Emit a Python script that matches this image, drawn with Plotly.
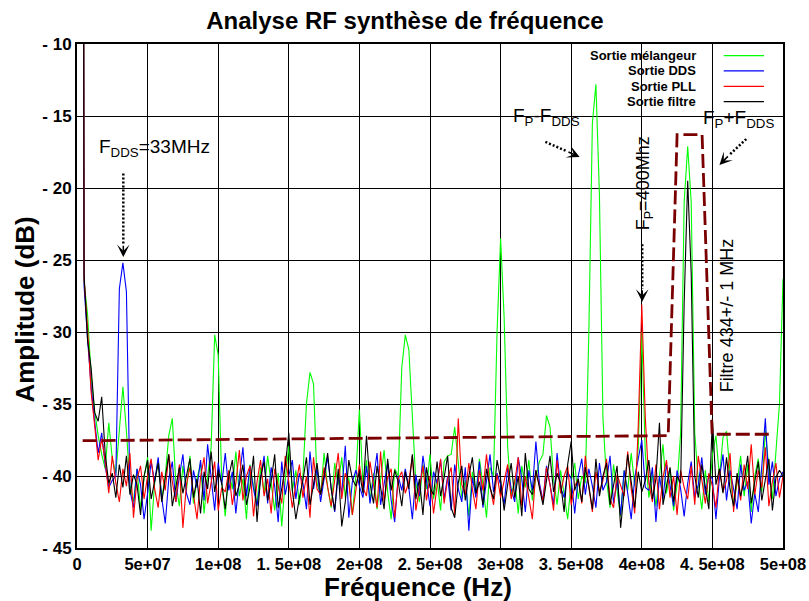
import plotly.graph_objects as go

# ---------------- data ----------------
series_names = ["Sortie mélangeur", "Sortie DDS", "Sortie PLL", "Sortie filtre"]
series_colors = ["#00ff00", "#0000ff", "#ff0000", "#000000"]

# sample grid (MHz): first point 4.6, then 5 .. 500 every 2.5 MHz
grid_first_mhz = 4.6
grid_start_mhz = 5.0
grid_step_mhz = 2.5

green_db = [
    0.0,
    -26.5, -28.8, -33.0, -35.5, -37.2, -38.5, -39.5, -36.3, -38.8, -39.8,
    -36.5, -33.8, -36.9, -40.6, -41.8, -39.5, -42.3, -40.1, -38.7, -43.8,
    -40.5, -38.9, -41.6, -40.0, -37.2, -36.0, -40.5, -42.1, -39.3, -41.0,
    -38.6, -41.9, -40.2, -39.1, -42.6, -40.0, -38.0, -30.2, -31.6, -40.4,
    -42.8, -39.6, -40.9, -38.3, -41.4, -40.2, -43.0, -39.2, -40.7, -41.9,
    -39.4, -41.2, -38.6, -40.5, -42.4, -39.8, -43.5, -40.3, -37.9, -41.0,
    -39.6, -42.0, -40.0, -35.0, -32.8, -33.6, -40.5, -41.3, -38.4, -40.8,
    -42.2, -39.1, -40.6, -38.7, -41.5, -40.1, -42.7, -40.0, -35.4, -40.5,
    -38.9, -41.7, -39.8, -42.3, -40.4, -38.2, -41.1, -43.0, -39.5, -40.0,
    -32.5, -30.2, -31.2, -36.0, -40.5, -41.8, -39.2, -40.9, -38.5, -41.6,
    -40.2, -42.4, -39.0, -38.6, -38.5, -36.6, -39.0, -41.5, -40.3, -42.8,
    -39.7, -41.2, -38.8, -40.6, -42.9, -39.4, -40.0, -30.0, -23.5, -29.0,
    -38.0, -41.4, -40.2, -42.6, -39.3, -40.8, -38.9, -41.7, -40.1, -39.0,
    -38.5, -35.8, -36.6, -40.2, -42.0, -39.6, -41.3, -43.0, -40.4, -39.1,
    -41.6, -40.0, -40.5, -30.0, -15.5, -12.8, -20.5, -36.0, -40.3, -42.2,
    -39.2, -40.9, -42.8, -39.6, -41.0, -38.4, -40.7, -38.0, -30.0, -38.5,
    -41.5, -39.8, -42.1, -40.0, -37.8, -41.2, -39.5, -42.4, -40.6, -37.0,
    -21.0, -17.1, -21.0, -37.0, -40.4, -42.3, -39.6, -41.8, -38.5, -37.2,
    -40.1, -37.3, -36.9, -39.8, -42.0, -40.5, -38.6, -41.4, -39.2, -42.5,
    -40.0, -38.8, -41.1, -36.8, -39.5, -41.6, -38.0, -35.0, -26.3,
]

blue_db = [
    0.0,
    -26.8, -30.5, -33.8, -36.2, -38.4, -37.0, -39.3, -40.8, -40.3, -40.0,
    -27.0, -25.2, -27.2, -41.0, -42.2, -39.5, -40.6, -43.0, -41.2, -39.0,
    -40.4, -38.7, -41.5, -43.3, -40.2, -39.0, -41.8, -40.0, -38.5, -41.2,
    -42.0, -39.6, -40.8, -38.9, -41.7, -37.8, -40.3, -42.4, -39.1, -40.6,
    -38.4, -41.0, -39.7, -42.6, -40.1, -38.0, -41.4, -39.3, -40.9, -42.1,
    -40.2, -38.6, -41.9, -39.4, -40.7, -43.2, -39.0, -41.3, -40.0, -38.9,
    -41.6, -39.8, -40.5, -42.3, -38.3, -40.9, -39.5, -41.8, -40.2, -38.7,
    -40.8, -42.5, -39.9, -41.2, -37.9, -42.9, -40.4, -39.6, -40.7, -41.5,
    -39.3, -41.9, -40.2, -38.4, -42.0, -40.6, -39.1, -41.7, -43.2, -40.0,
    -41.0, -39.5, -40.8, -43.0, -39.9, -41.4, -38.6, -40.3, -42.1, -39.7,
    -40.5, -38.9, -41.6, -40.0, -42.4, -39.2, -40.9, -41.8, -39.4, -43.8,
    -40.1, -41.5, -39.0, -42.2, -40.4, -38.5, -41.1, -39.8, -40.6, -42.0,
    -39.4, -40.9, -41.8, -38.7, -40.2, -42.5, -39.6, -41.0, -37.6, -40.5,
    -41.7, -39.3, -40.6, -42.0, -38.4, -40.8, -41.5, -39.7, -40.2, -42.6,
    -40.0, -38.8, -41.3, -39.5, -40.7, -42.2, -39.1, -41.0, -40.4, -38.6,
    -41.9, -40.3, -42.7, -39.6, -41.2, -43.0, -40.1, -38.9, -37.5, -40.8,
    -41.0, -39.4, -43.2, -40.0, -41.6, -39.2, -40.8, -42.1, -39.6, -40.9,
    -42.8, -40.5, -39.0, -41.5, -40.6, -38.7, -41.3, -39.9, -40.2, -43.0,
    -40.1, -38.5, -41.7, -39.6, -40.9, -42.3, -39.2, -41.0, -40.4, -43.3,
    -41.2, -42.5, -39.3, -36.0, -40.6, -39.0, -41.4, -40.2, -39.7,
]

red_db = [
    0.0,
    -26.3, -29.8, -34.2, -36.5, -38.9, -37.4, -39.0, -41.2, -38.6, -40.5,
    -41.8, -39.5, -40.7, -38.4, -42.9, -40.2, -39.3, -41.6, -40.0, -38.8,
    -40.9, -42.2, -39.7, -41.0, -38.5, -40.4, -41.8, -39.2, -43.6, -40.6,
    -39.4, -41.3, -43.0, -40.1, -38.7, -41.9, -40.3, -39.0, -42.4, -40.8,
    -41.1, -39.6, -42.0, -40.5, -38.2, -41.7, -40.0, -39.3, -42.8, -40.4,
    -38.9, -41.4, -40.2, -42.6, -39.5, -40.8, -41.9, -38.6, -40.3, -42.2,
    -40.6, -39.2, -41.5, -40.0, -42.9, -38.7, -40.9, -41.3, -39.4, -40.7,
    -42.1, -40.3, -38.4, -41.6, -39.8, -40.5, -42.7, -41.0, -39.2, -40.8,
    -41.4, -39.0, -40.6, -42.2, -38.3, -41.8, -40.1, -39.5, -42.9, -40.2,
    -39.7, -41.2, -40.4, -38.6, -42.4, -40.9, -39.3, -41.7, -40.0, -42.6,
    -40.5, -38.8, -41.9, -40.2, -39.4, -42.7, -36.0, -40.6, -41.3, -39.1,
    -40.9, -42.3, -39.6, -41.0, -38.5, -40.7, -42.0, -39.9, -41.5, -40.3,
    -39.2, -41.6, -40.4, -38.7, -42.1, -40.0, -41.4, -43.0, -39.6, -40.8,
    -41.8, -39.4, -40.6, -42.4, -38.9, -41.2, -40.0, -39.3, -42.0, -40.7,
    -40.2, -41.9, -38.6, -40.8, -42.5, -39.7, -41.1, -40.3, -38.8, -41.6,
    -42.2, -39.9, -40.6, -41.4, -38.3, -40.9, -42.6, -36.5, -28.1, -36.0,
    -40.5, -41.8, -39.2, -42.3, -40.1, -38.9, -41.5, -40.0, -42.7, -39.6,
    -40.8, -41.6, -39.3, -42.0, -38.6, -40.4, -41.9, -39.8, -40.7, -42.2,
    -39.5, -41.1, -40.3, -38.4, -42.5, -40.0, -41.7, -39.2, -40.9, -37.8,
    -41.3, -39.6, -40.8, -38.0, -42.1, -40.4, -39.1, -41.5, -40.0,
]

black_db = [
    0.0,
    -26.0, -30.6, -32.5, -35.6, -36.2, -34.5, -38.5, -40.5, -39.8, -41.5,
    -39.2, -40.8, -38.6, -41.3, -39.9, -40.6, -42.7, -40.0, -38.9, -41.6,
    -40.3, -39.1, -41.8, -40.0, -38.5, -42.1, -40.7, -39.4, -41.2, -40.1,
    -38.8, -41.5, -40.2, -42.6, -39.7, -40.9, -38.3, -41.1, -39.6, -40.5,
    -42.3, -40.0, -38.9, -41.4, -40.6, -39.2, -42.0, -40.8, -38.6, -43.2,
    -40.1, -39.0, -41.7, -40.4, -38.5, -42.2, -40.9, -39.3, -37.0, -41.0,
    -43.0, -41.5, -40.3, -38.7, -42.0, -40.6, -39.1, -41.3, -40.0, -38.4,
    -40.9, -42.4, -39.5, -43.5, -41.8, -38.9, -40.2, -40.7, -39.7, -41.2,
    -37.2, -40.5, -41.9, -39.3, -40.8, -42.3, -38.8, -41.0, -39.6, -40.4,
    -42.1, -39.7, -40.9, -38.5, -41.6, -40.2, -42.7, -39.4, -40.8, -41.3,
    -39.0, -41.4, -40.1, -38.6, -42.2, -42.9, -40.5, -39.3, -41.7, -40.0,
    -38.7, -41.2, -40.4, -42.0, -39.5, -40.8, -41.6, -38.9, -40.2, -42.4,
    -40.6, -39.1, -41.5, -40.0, -42.8, -38.4, -40.9, -41.3, -39.6, -40.7,
    -42.0, -40.3, -38.6, -41.1, -39.8, -40.5, -42.5, -39.2, -37.6, -41.0,
    -40.2, -41.8, -39.4, -40.7, -42.3, -38.8, -41.4, -40.0, -39.1, -42.0,
    -40.6, -39.3, -43.6, -41.0, -38.5, -40.4, -42.2, -39.7, -41.1, -40.3,
    -38.9, -41.6, -40.2, -36.3, -42.0, -40.7, -39.4, -41.8, -40.0, -40.5,
    -28.0, -19.5, -26.0, -40.0, -41.5, -39.2, -40.8, -42.3, -36.0, -40.6,
    -39.5, -41.2, -38.7, -40.9, -42.1, -39.8, -41.4, -40.3, -38.6, -41.9,
    -40.4, -39.0, -41.7, -40.2, -38.8, -42.4, -40.1, -39.6, -40.0,
]

# filter template (dashed)
mask_freq_mhz = [4.0, 418.7, 425.0, 442.7, 449.8, 491.5]
mask_db = [-37.55, -37.2, -16.3, -16.3, -37.1, -37.1]

x_tickvals = [0, 5e7, 1e8, 1.5e8, 2e8, 2.5e8, 3e8, 3.5e8, 4e8, 4.5e8, 5e8]
x_ticktext = ["0", "5e+07", "1e+08", "1. 5e+08", "2e+08", "2. 5e+08",
              "3e+08", "3. 5e+08", "4e+08", "4. 5e+08", "5e+08"]
y_tickvals = [-45, -40, -35, -30, -25, -20, -15, -10]
y_ticktext = ["- 45", "- 40", "- 35", "- 30", "- 25", "- 20", "- 15", "- 10"]

# ---------------- figure ----------------
def freq_hz(values):
    mhz = [grid_first_mhz] + [grid_start_mhz + grid_step_mhz * i for i in range(len(values) - 1)]
    return [m * 1e6 for m in mhz]

fig = go.Figure()
for name, color, vals in zip(series_names, series_colors, [green_db, blue_db, red_db, black_db]):
    fig.add_trace(go.Scatter(x=freq_hz(vals), y=vals, mode="lines", name=name,
                             line=dict(color=color, width=1.1), showlegend=False))

fig.add_trace(go.Scatter(x=[m * 1e6 for m in mask_freq_mhz], y=mask_db, mode="lines",
                         name="Filtre", line=dict(color="#7a0000", width=2.8, dash="14px,5px"),
                         showlegend=False))

REG = "Liberation Sans, Arial"

annotations = []
shapes = []

# text labels (positions in data units)
labels = [
    ("F<sub>DDS</sub>=33MHz", 14.4e6, -17.2, 0, "left", 19),
    ("F<sub>P</sub>-F<sub>DDS</sub>", 307.4e6, -15.1, 0, "left", 19),
    ("F<sub>P</sub>+F<sub>DDS</sub>", 442.0e6, -15.2, 0, "left", 19),
    ("F<sub>P</sub>=400Mhz", 402.5e6, -19.65, -90, "center", 18),
]
for txt, xv, yv, ang, xa, sz in labels:
    annotations.append(dict(x=xv, y=yv, xref="x", yref="y", text=txt, showarrow=False,
                            textangle=ang, xanchor=xa, yanchor="middle",
                            font=dict(family=REG, size=sz, color="black")))
annotations.append(dict(x=461e6, y=-28.85, xref="x", yref="y", text="Filtre 434+/- 1 MHz",
                        showarrow=False, textangle=-90, xanchor="center", yanchor="middle",
                        font=dict(family=REG, size=18, color="black")))

# dotted arrows: (shaft start, head base, tip) in (MHz, dB)
arrows = [
    ((32.8, -19.0), (32.8, -23.9), (32.8, -24.8)),
    ((331.7, -16.8), (347.0, -17.45), (356.0, -17.85)),
    ((474.0, -16.6), (462.0, -17.7), (455.0, -18.4)),
    ((400.3, -23.9), (400.3, -27.0), (400.3, -27.9)),
]
for (sx, sy), (bx, by), (tx, ty) in arrows:
    shapes.append(dict(type="line", xref="x", yref="y", x0=sx * 1e6, y0=sy, x1=bx * 1e6, y1=by,
                       line=dict(color="black", width=2.5, dash="2px,2px")))
    annotations.append(dict(x=tx * 1e6, y=ty, ax=bx * 1e6, ay=by, xref="x", yref="y",
                            axref="x", ayref="y", text="", showarrow=True, arrowhead=3,
                            arrowsize=1.4, arrowwidth=1.5, arrowcolor="black", standoff=0))

# legend (gnuplot style: text left, line sample right)
legend_top = 0.977
legend_dy = 0.0305
for k, (name, color) in enumerate(zip(series_names, series_colors)):
    yk = legend_top - k * legend_dy
    annotations.append(dict(xref="paper", yref="paper", x=0.879, y=yk, text=name,
                            xanchor="right", yanchor="middle", showarrow=False,
                            font=dict(family=REG, size=13, color="black", weight="bold")))
    shapes.append(dict(type="line", xref="paper", yref="paper", x0=0.916, x1=0.973,
                       y0=yk, y1=yk, line=dict(color=color, width=1.3)))

# axis titles
annotations.append(dict(xref="paper", yref="paper", x=0.483, y=-0.077, text="Fréquence (Hz)",
                        showarrow=False, xanchor="center", yanchor="middle",
                        font=dict(family=REG, size=26, color="black", weight="bold")))
annotations.append(dict(xref="paper", yref="paper", x=-0.073, y=0.474, text="Amplitude (dB)",
                        showarrow=False, xanchor="center", yanchor="middle", textangle=-90,
                        font=dict(family=REG, size=26, color="black", weight="bold")))

fig.update_layout(
    width=809, height=601,
    margin=dict(l=77, r=26, t=44, b=53, autoexpand=False),
    paper_bgcolor="white", plot_bgcolor="white",
    font=dict(family=REG, color="black"),
    title=dict(text="Analyse RF synthèse de fréquence", x=0.5006, xref="container",
               y=0.966, yref="container", xanchor="center", yanchor="middle",
               font=dict(family=REG, size=24, color="black", weight="bold")),
    annotations=annotations,
    shapes=shapes,
    showlegend=False,
)
fig.update_xaxes(range=[0, 5e8], tickvals=x_tickvals, ticktext=x_ticktext, automargin=False,
                 showgrid=True, gridcolor="black", gridwidth=1,
                 showline=True, linecolor="black", linewidth=2, mirror="ticks",
                 ticks="inside", ticklen=6, tickcolor="black", zeroline=False,
                 tickfont=dict(family=REG, size=16.5, color="black", weight="bold"))
fig.update_yaxes(range=[-45, -10], tickvals=y_tickvals, ticktext=y_ticktext, automargin=False,
                 showgrid=True, gridcolor="black", gridwidth=1,
                 showline=True, linecolor="black", linewidth=2, mirror="ticks",
                 ticks="inside", ticklen=6, tickcolor="black", zeroline=False,
                 tickfont=dict(family=REG, size=17, color="black", weight="bold"))

fig.write_html("out.html", config={"displayModeBar": False},
               post_script="document.body.style.margin='0';document.body.style.overflow='hidden';")
